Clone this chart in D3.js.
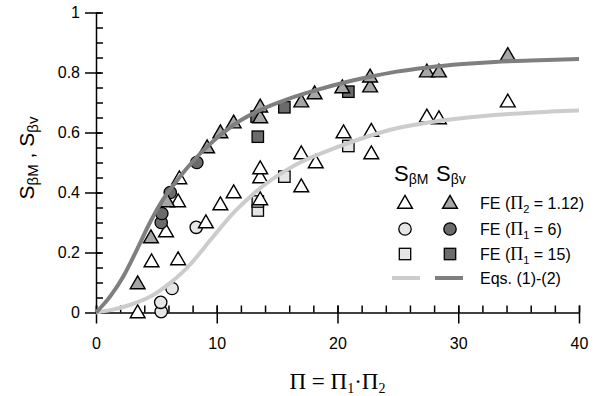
<!DOCTYPE html>
<html><head><meta charset="utf-8">
<script src="https://cdn.jsdelivr.net/npm/d3@7"></script>
<style>body{margin:0;background:#fff}svg{display:block}</style>
</head><body><svg id="c" width="612" height="396" font-family="Liberation Sans, Arial, sans-serif"></svg>
<script>
// ---- data ----
const xTicks = [0, 10, 20, 30, 40];
const yTicks = [0, 0.2, 0.4, 0.6, 0.8, 1];
const yTickLabels = ["0", "0.2", "0.4", "0.6", "0.8", "1"];
// FE (Pi2 = 1.12): S_bM (open triangles)
const triM = [[3.45,0.0],[4.6,0.17],[6.8,0.177],[5.8,0.27],[6.8,0.37],[6.9,0.447],[9.1,0.30],[10.3,0.36],[11.4,0.40],
  [13.6,0.377],[13.6,0.45],[13.6,0.48],[17.0,0.42],[17.0,0.53],[18.2,0.50],[20.5,0.60],[22.8,0.53],[22.8,0.605],
  [27.4,0.653],[28.4,0.647],[34.1,0.703]];
// FE (Pi2 = 1.12): S_bv (grey triangles)
const triV = [[3.45,0.097],[4.55,0.25],[5.9,0.37],[9.2,0.55],[10.3,0.60],[11.4,0.633],[13.6,0.65],[13.6,0.686],
  [17.0,0.703],[18.1,0.73],[20.4,0.75],[22.7,0.753],[22.7,0.786],[27.4,0.803],[28.4,0.803],[34.1,0.858]];
// FE (Pi1 = 6)
const cirM = [[5.4,0.003],[5.36,0.034],[6.3,0.08],[8.3,0.284]];
const cirV = [[5.4,0.30],[5.45,0.33],[6.15,0.40],[8.35,0.50]];
// FE (Pi1 = 15)
const sqM = [[13.4,0.34],[13.4,0.37],[15.6,0.453],[20.9,0.555]];
const sqV = [[13.4,0.586],[13.3,0.653],[15.6,0.684],[20.9,0.736]];
// Eqs. (1)-(2) curves
const curveM = [[0,0],[1.2,0.008],[2.8,0.025],[4.5,0.053],[6.1,0.097],[7.8,0.16],[8.6,0.198],[9.3,0.233],[10,0.267],
  [11.4,0.333],[12.8,0.387],[14.1,0.43],[15.5,0.468],[16.9,0.50],[18.3,0.525],[19.7,0.547],[22,0.58],[24.9,0.614],
  [27.5,0.633],[30.4,0.648],[33,0.658],[36,0.666],[40,0.673]];
const curveV = [[0,0],[1.16,0.053],[2.26,0.12],[3.37,0.208],[4.47,0.30],[5.44,0.37],[6.96,0.453],[9.2,0.553],
  [11.2,0.62],[13.6,0.675],[16,0.713],[18.3,0.742],[20.5,0.766],[22.7,0.786],[24.9,0.803],[27.5,0.817],
  [30.4,0.828],[33,0.835],[36,0.840],[40,0.845]];
const legendRows = ["FE (", "FE (", "FE (", "Eqs. (1)-(2)"];

// ---- chart ----
const svg = d3.select("#c");
const x = d3.scaleLinear().domain([0,40]).range([96,579]);
const y = d3.scaleLinear().domain([0,1]).range([312.5,12.5]);

const cLight = "#e6e6e6", cDark = "#6b6b6b", cTri = "#a6a6a6";
const lineLight = "#cccccc", lineDark = "#7f7f7f";

// minor ticks
svg.append("g").attr("transform","translate(0,312.5)")
  .call(d3.axisTop(x).tickValues(d3.range(0,41,2)).tickSize(7).tickFormat("").tickSizeOuter(0))
  .call(g=>g.select(".domain").remove());
svg.append("g").attr("transform","translate(96,0)")
  .call(d3.axisRight(y).tickValues(d3.range(0,1.001,0.05)).tickSize(7).tickFormat("").tickSizeOuter(0))
  .call(g=>g.select(".domain").remove());
// major ticks
const gx = svg.append("g").attr("transform","translate(0,312.5)")
  .call(d3.axisBottom(x).tickValues(xTicks).tickSize(11).tickSizeOuter(0).tickPadding(14));
gx.selectAll(".tick line").attr("y1",-7);
gx.selectAll("text").attr("font-size",16).attr("font-family","Liberation Sans");
const gy = svg.append("g").attr("transform","translate(96,0)")
  .call(d3.axisLeft(y).tickValues(yTicks).tickFormat((d,i)=>yTickLabels[i]).tickSize(11).tickSizeOuter(0).tickPadding(5));
gy.selectAll(".tick line").attr("x1",5);
gy.selectAll("text").attr("font-size",16).attr("font-family","Liberation Sans");
svg.selectAll(".domain,.tick line").attr("stroke","#000").attr("stroke-width",1.5);

// markers
const triPath = d3.symbol().type(d3.symbolTriangle).size(95);
function tri(data, fill){
  svg.append("g").selectAll("path").data(data).join("path")
    .attr("d", triPath).attr("transform",d=>`translate(${x(d[0])},${y(d[1])+1})`)
    .attr("fill",fill).attr("stroke","#000").attr("stroke-width",1.4);
}
function cir(data, fill){
  svg.append("g").selectAll("circle").data(data).join("circle")
    .attr("cx",d=>x(d[0])).attr("cy",d=>y(d[1])).attr("r",6.2)
    .attr("fill",fill).attr("stroke","#000").attr("stroke-width",1.3);
}
function sq(data, fill){
  svg.append("g").selectAll("rect").data(data).join("rect")
    .attr("x",d=>x(d[0])-5.7).attr("y",d=>y(d[1])-5.7).attr("width",11.4).attr("height",11.4)
    .attr("fill",fill).attr("stroke","#000").attr("stroke-width",1.3);
}
cir(cirM, cLight); sq(sqM, cLight); tri(triM, "#fff");
cir(cirV, cDark); sq(sqV, cDark); tri(triV, cTri);

const line = d3.line().x(d=>x(d[0])).y(d=>y(d[1])).curve(d3.curveMonotoneX);
svg.append("path").datum(curveM).attr("d",line).attr("fill","none").attr("stroke",lineLight).attr("stroke-width",4);
svg.append("path").datum(curveV).attr("d",line).attr("fill","none").attr("stroke",lineDark).attr("stroke-width",4);

// axis labels
const yl = svg.append("text").attr("transform","translate(34,158) rotate(-90)").attr("text-anchor","middle").attr("font-size",21);
yl.append("tspan").text("S");
yl.append("tspan").attr("font-size",15).attr("dy",4).text("βM");
yl.append("tspan").attr("dy",-4).text(" , S");
yl.append("tspan").attr("font-size",15).attr("dy",4).text("βv");

const xl = svg.append("text").attr("x",337.5).attr("y",389).attr("text-anchor","middle")
  .attr("font-family","Liberation Serif").attr("font-size",23);
xl.append("tspan").text("Π = Π");
xl.append("tspan").attr("font-size",14).attr("dy",4).text("1");
xl.append("tspan").attr("dy",-4).text("·Π");
xl.append("tspan").attr("font-size",14).attr("dy",4).text("2");

// legend
const lg = svg.append("g");
function hdr(tx, sub){
  const t = lg.append("text").attr("x",tx).attr("y",181).attr("font-size",22);
  t.append("tspan").text("S");
  t.append("tspan").attr("font-size",14).attr("dy",3).text(sub);
}
hdr(394,"βM"); hdr(436,"βv");
const rowY = [203,229,254,278];
lg.append("path").attr("d",triPath).attr("transform",`translate(405,${rowY[0]+1})`).attr("fill","#fff").attr("stroke","#000").attr("stroke-width",1.4);
lg.append("path").attr("d",triPath).attr("transform",`translate(450,${rowY[0]+1})`).attr("fill",cTri).attr("stroke","#000").attr("stroke-width",1.4);
lg.append("circle").attr("cx",405).attr("cy",rowY[1]).attr("r",6.2).attr("fill",cLight).attr("stroke","#000").attr("stroke-width",1.3);
lg.append("circle").attr("cx",450).attr("cy",rowY[1]).attr("r",6.2).attr("fill",cDark).attr("stroke","#000").attr("stroke-width",1.3);
lg.append("rect").attr("x",399.3).attr("y",rowY[2]-5.7).attr("width",11.4).attr("height",11.4).attr("fill",cLight).attr("stroke","#000").attr("stroke-width",1.3);
lg.append("rect").attr("x",444.3).attr("y",rowY[2]-5.7).attr("width",11.4).attr("height",11.4).attr("fill",cDark).attr("stroke","#000").attr("stroke-width",1.3);
lg.append("line").attr("x1",392).attr("x2",420).attr("y1",rowY[3]).attr("y2",rowY[3]).attr("stroke",lineLight).attr("stroke-width",4);
lg.append("line").attr("x1",435).attr("x2",463).attr("y1",rowY[3]).attr("y2",rowY[3]).attr("stroke",lineDark).attr("stroke-width",4);
const subs = [["2"," = 1.12)"],["1"," = 6)"],["1"," = 15)"]];
legendRows.forEach((s,i)=>{
  const t = lg.append("text").attr("x",480).attr("y",rowY[i]+6).attr("font-size",16);
  t.append("tspan").text(s);
  if(i<3){
    t.append("tspan").attr("font-family","Liberation Serif").attr("font-size",18).text("Π");
    t.append("tspan").attr("font-size",11).attr("dy",4).text(subs[i][0]);
    t.append("tspan").attr("dy",-4).text(subs[i][1]);
  }
});
</script></body></html>
